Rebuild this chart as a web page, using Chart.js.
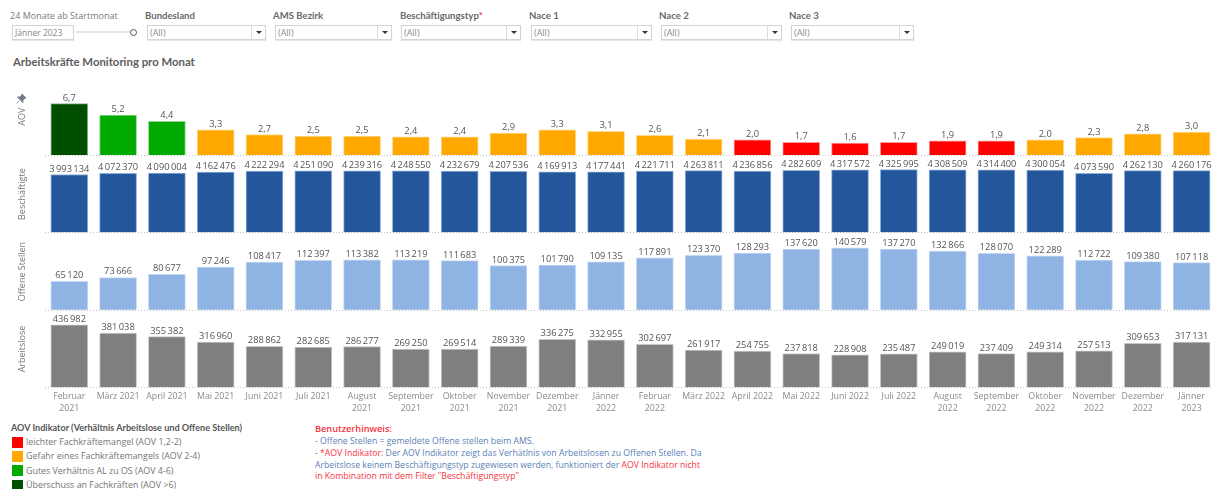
<!DOCTYPE html>
<html lang="de">
<head>
<meta charset="utf-8">
<title>Arbeitskräfte Monitoring pro Monat</title>
<script src="https://cdn.jsdelivr.net/npm/chart.js@4"></script>
<style>
html,body{margin:0;padding:0;background:#fff;width:1212px;height:489px;overflow:hidden;font-family:"Open Sans",sans-serif;}
#wrap{position:relative;width:1212px;height:489px;overflow:hidden;}
canvas#c{position:absolute;left:0;top:78px;}
.t{position:absolute;white-space:nowrap;line-height:12px;}
.flabel{font-family:Lato,sans-serif;font-size:9.6px;font-weight:700;color:#6a6a6a;top:10px;}
.box{position:absolute;top:25px;height:13px;border:1px solid #d4d4d4;box-shadow:0 1px 1px #e6e6e6;font-size:9px;color:#8a8a8a;line-height:13px;padding-left:2px;box-sizing:content-box;}
.box i{position:absolute;right:0;top:0;width:13px;height:13px;border-left:1px solid #dcdcdc;}
.box i:after{content:"";position:absolute;left:4px;top:5px;border-left:3px solid transparent;border-right:3px solid transparent;border-top:3px solid #333;}
.sw{position:absolute;left:12px;width:11px;height:11px;}
.lg{font-size:8.9px;color:#757575;left:26px;}
.n{font-size:8.7px;left:315px;color:#5b7fb5;}
.r{color:#f8353f;}
</style>
</head>
<body>
<div id="wrap">
  <div class="t" style="left:10px;top:10px;font-size:9px;color:#7a7a7a;">24 Monate ab Startmonat</div>
  <div class="box" style="left:12px;width:58px;color:#8a8a8a;font-size:8.5px;">Jänner 2023</div>
  <div style="position:absolute;left:76px;top:31px;width:56px;height:2px;background:#e4e4e4;"></div>
  <div style="position:absolute;left:130px;top:29px;width:5px;height:5px;border:1px solid #555;border-radius:50%;background:#fff;"></div>
  <div id="filters"></div>
  <div class="t" style="left:13px;top:56px;font-family:Lato,sans-serif;font-size:11.35px;font-weight:700;color:#5e5e5e;">Arbeitskräfte Monitoring pro Monat</div>
  <svg style="position:absolute;left:16px;top:94px;" width="10" height="10" viewBox="0 0 10 10"><path d="M6 0 L10 4 L8.6 4.6 L7 6.2 L7 8.6 L1.4 3 L3.8 3 L5.4 1.4 Z M3.2 6.8 L0.5 9.5" fill="#707c8a" stroke="#707c8a" stroke-width="0.8"/></svg>
  <canvas id="c" width="1216" height="342"></canvas>
  <div class="t" style="left:11px;top:422px;font-family:Lato,sans-serif;font-size:9.1px;font-weight:700;color:#555;">AOV Indikator (Verhältnis Arbeitslose und Offene Stellen)</div>
  <div id="legend"></div>
  <div class="t r" style="left:315px;top:423px;font-size:9.2px;font-weight:600;">Benutzerhinweis:</div>
  <div class="t n" style="top:435px;">- Offene Stellen = gemeldete Offene stellen beim AMS.</div>
  <div class="t n" style="top:447px;"><span class="r">- *AOV Indikator:</span> Der AOV Indikator zeigt das Verhätlnis von Arbeitslosen zu Offenen Stellen. Da</div>
  <div class="t n" style="top:459px;">Arbeitslose keinem Beschäftigungstyp zugewiesen werden, funktioniert der <span class="r">AOV Indikator nicht</span></div>
  <div class="t n r" style="top:470px;">in Kombination mit dem Filter "Beschäftigungstyp"</div>
</div>
<script>
const categories = [
  ['Februar','2021'],'März 2021','April 2021','Mai 2021','Juni 2021','Juli 2021',
  ['August','2021'],['September','2021'],['Oktober','2021'],['November','2021'],['Dezember','2021'],['Jänner','2022'],
  ['Februar','2022'],'März 2022','April 2022','Mai 2022','Juni 2022','Juli 2022',
  ['August','2022'],['September','2022'],['Oktober','2022'],['November','2022'],['Dezember','2022'],['Jänner','2023']
];
const aov = [6.7,5.2,4.4,3.3,2.7,2.5,2.5,2.4,2.4,2.9,3.3,3.1,2.6,2.1,2.0,1.7,1.6,1.7,1.9,1.9,2.0,2.3,2.8,3.0];
const aovClass = [3,2,2,1,1,1,1,1,1,1,1,1,1,1,0,0,0,0,0,0,1,1,1,1];
const beschaeftigte = [3993134,4072370,4090004,4162476,4222294,4251090,4239316,4248550,4232679,4207536,4169913,4177441,4221711,4263811,4236856,4282609,4317572,4325995,4308509,4314400,4300054,4073590,4262130,4260176];
const offeneStellen = [65120,73666,80677,97246,108417,112397,113382,113219,111683,100375,101790,109135,117891,123370,128293,137620,140579,137270,132866,128070,122289,112722,109380,107118];
const arbeitslose = [436982,381038,355382,316960,288862,282685,286277,269250,269514,289339,336275,332955,302697,261917,254755,237818,228908,235487,249019,237409,249314,257513,309653,317131];
const legendLabels = ['leichter Fachkräftemangel (AOV 1,2-2)','Gefahr eines Fachkräftemangels (AOV 2-4)','Gutes Verhältnis AL zu OS (AOV 4-6)','Überschuss an Fachkräften (AOV >6)'];
const aovColors = ['#fe0000','#ffa800','#00aa00','#004f00'];
const aovBorders = ['#ff9a9a','#ffd88a','#8fd98f','#8fb58f'];
const filterNames = ['Bundesland','AMS Bezirk','Beschäftigungstyp','Nace 1','Nace 2','Nace 3'];
const filterLabelX = [145,273,400,529,659,789];
const filterBoxX = [147,275,401,531,661,791];
const filterBoxW = [115,113,116,117,117,119];

document.getElementById('filters').innerHTML = filterNames.map((n,i)=>
  `<div class="t flabel" style="left:${filterLabelX[i]}px">${n}${n==='Beschäftigungstyp'?'<span class="r">*</span>':''}</div>`+
  `<div class="box" style="left:${filterBoxX[i]}px;width:${filterBoxW[i]}px">(All)<i></i></div>`).join('');
const legendTop=[437,451,465,480], legendText=[436,450,465,479];
document.getElementById('legend').innerHTML = legendLabels.map((l,i)=>
  `<div class="sw" style="top:${legendTop[i]}px;background:${aovColors[i]}"></div>`+
  `<div class="t lg" style="top:${legendText[i]}px">${l.replace('>','&gt;')}</div>`).join('');

const axisCommon = (title)=>({
  type:'linear', position:'left', stack:'panels', stackWeight:1, min:0,
  afterBuildTicks(a){a.ticks=[{value:0}];},
  afterFit(a){a.width=44.9;},
  ticks:{display:false},
  grid:{color:'#c4c4c4',lineWidth:1,drawTicks:false,tickLength:0},
  border:{display:false,dash:[1,2]},
  title:{display:true,text:title,color:'#777',font:{family:'Open Sans',size:9},padding:{top:17,bottom:0}}
});
const barBase = {barThickness:37,grouped:false,borderWidth:1,borderSkipped:'bottom'};
const fmt = v => String(v).replace(/\B(?=(\d{3})+$)/g,' ');
const labelsPlugin = {
  id:'valueLabels',
  afterDatasetsDraw(chart){
    const ctx=chart.ctx;
    ctx.save();
    ctx.font='9.3px "Open Sans"';
    ctx.fillStyle='#555';
    ctx.textAlign='center';
    ctx.textBaseline='bottom';
    ctx.wordSpacing='-1px';
    chart.data.datasets.forEach((ds,di)=>{
      chart.getDatasetMeta(di).data.forEach((bar,i)=>{
        const v=ds.data[i];
        const s=di===0?v.toFixed(1).replace('.',','):fmt(v);
        ctx.fillText(s,bar.x,bar.y-1);
      });
    });
    ctx.restore();
  }
};
new Chart(document.getElementById('c'),{
  type:'bar',
  data:{labels:categories,datasets:[
    {...barBase,label:'AOV',data:aov,yAxisID:'yAov',backgroundColor:aovClass.map(c=>aovColors[c]),borderColor:aovClass.map(c=>aovBorders[c])},
    {...barBase,label:'Beschäftigte',data:beschaeftigte,yAxisID:'yBes',backgroundColor:'#23569b',borderColor:'#8fb0d8'},
    {...barBase,label:'Offene Stellen',data:offeneStellen,yAxisID:'yOff',backgroundColor:'#8fb3e2',borderColor:'#c4d8f2'},
    {...barBase,label:'Arbeitslose',data:arbeitslose,yAxisID:'yArb',backgroundColor:'#7f7f7f',borderColor:'#c8c8c8'}
  ]},
  options:{
    responsive:false,animation:false,
    layout:{padding:0},
    plugins:{legend:{display:false},tooltip:{enabled:false}},
    scales:{
      x:{type:'category',position:'bottom',offset:true,
        grid:{display:false,drawTicks:false},border:{display:false},
        afterFit(a){a.height=32.3;},
        ticks:{color:'#8a8a8a',font:{family:'Open Sans',size:8.8,lineHeight:1.35},maxRotation:0,minRotation:0,autoSkip:false,padding:3}},
      yArb:{...axisCommon('Arbeitslose'),max:539000},
      yOff:{...axisCommon('Offene Stellen'),max:174000},
      yBes:{...axisCommon('Beschäftigte'),max:5300000},
      yAov:{...axisCommon('AOV'),max:10}
    }
  },
  plugins:[labelsPlugin]
});
</script>
</body>
</html>
